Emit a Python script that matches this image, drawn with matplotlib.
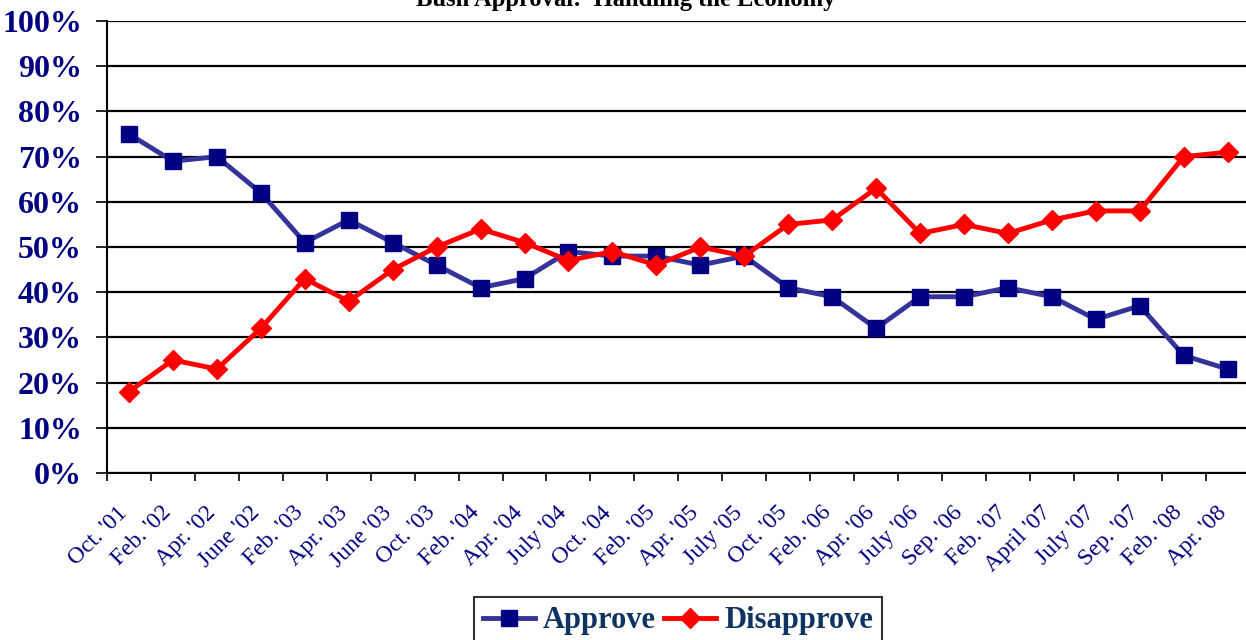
import numpy as np
import matplotlib
matplotlib.use('agg')
import matplotlib.pyplot as plt
from matplotlib.ticker import FixedLocator
import matplotlib.transforms as mtransforms

# poll dates and results (percent)
dates = ["Oct. '01", "Feb. '02", "Apr. '02", "June '02", "Feb. '03", "Apr. '03",
         "June '03", "Oct. '03", "Feb. '04", "Apr. '04", "July '04", "Oct. '04",
         "Feb. '05", "Apr. '05", "July '05", "Oct. '05", "Feb. '06", "Apr. '06",
         "July '06", "Sep. '06", "Feb. '07", "April '07", "July '07", "Sep. '07",
         "Feb. '08", "Apr. '08"]
approve = [75, 69, 70, 62, 51, 56, 51, 46, 41, 43, 49, 48, 48, 46, 48,
           41, 39, 32, 39, 39, 41, 39, 34, 37, 26, 23]
disapprove = [18, 25, 23, 32, 43, 38, 45, 50, 54, 51, 47, 49, 46, 50, 48,
              55, 56, 63, 53, 55, 53, 56, 58, 58, 70, 71]
y_ticks = list(range(0, 101, 10))

plt.rcParams['font.family'] = ['Liberation Serif', 'DejaVu Serif']

fig = plt.figure(figsize=(12.46, 6.4), dpi=100)
ax = fig.add_axes([0.0859, 0.261, 0.917, 0.706])

x = np.arange(len(dates))
ax.plot(x, approve, color='#333399', lw=3.5, marker='s', markersize=12,
        markerfacecolor='#000080', markeredgecolor='#000080', label='Approve',
        zorder=3)
ax.plot(x, disapprove, color='#FF0000', lw=3.5, marker='D', markersize=10,
        markerfacecolor='#FF0000', markeredgecolor='#FF0000', label='Disapprove',
        zorder=4)

ax.set_xlim(-0.5, len(dates) - 0.5)
ax.set_ylim(0, 100)

ax.set_yticks(y_ticks)
ax.set_yticklabels([f"{v}%" for v in y_ticks], fontsize=23, fontweight='bold',
                   color='#000080')
ax.tick_params(axis='y', direction='out', length=8, width=1.2, pad=10)
ax.yaxis.grid(True, color='black', lw=1.6)
ax.set_axisbelow(True)

ax.set_xticks(x)
ax.set_xticklabels(dates, rotation=45, ha='right', rotation_mode='anchor',
                   fontsize=17, color='#000080')
ax.tick_params(axis='x', which='major', length=0, pad=21)
ax.xaxis.set_minor_locator(FixedLocator(np.arange(-0.5, len(dates), 1.0)))
ax.tick_params(axis='x', which='minor', direction='out', length=6, width=1.2)
shift = mtransforms.ScaledTranslation(-12 / 100, 0, fig.dpi_scale_trans)
for lbl in ax.get_xticklabels():
    lbl.set_transform(lbl.get_transform() + shift)

for side in ('top', 'right'):
    ax.spines[side].set_visible(False)
for side in ('left', 'bottom'):
    ax.spines[side].set_linewidth(1.5)
    ax.spines[side].set_color('black')

fig.text(0.502, 0.9906, "Bush Approval:  Handling the Economy", ha='center',
         va='baseline', fontsize=17.7, fontweight='bold', color='black')

leg = fig.legend(loc='upper center', bbox_to_anchor=(0.544, 0.067), ncol=2,
                 frameon=True, fancybox=False, edgecolor='black',
                 prop={'size': 22, 'weight': 'bold'}, handlelength=1.7,
                 columnspacing=0.3, handletextpad=0.25, borderpad=0.3,
                 borderaxespad=0)
leg.get_frame().set_linewidth(1.5)
for t in leg.get_texts():
    t.set_color('#0F3460')

fig.savefig('out.png', dpi=100)
